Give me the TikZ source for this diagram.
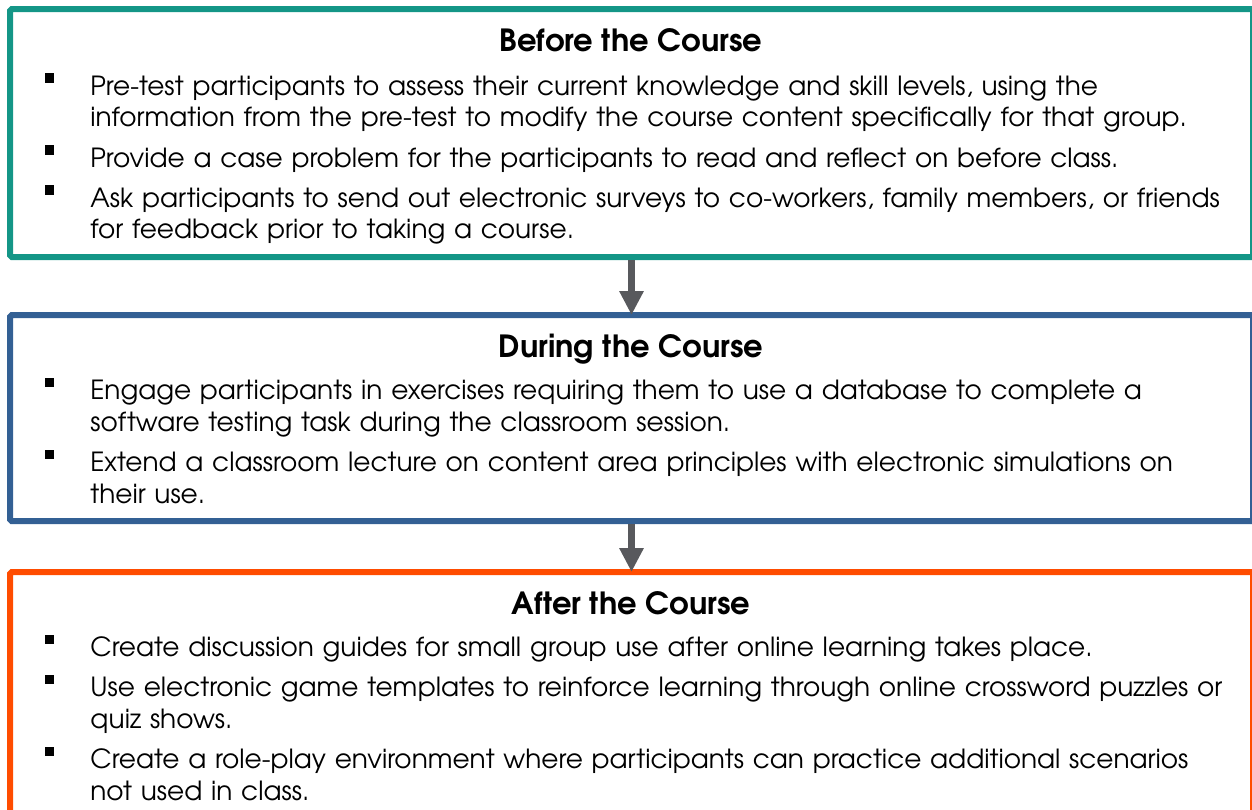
\documentclass[tikz,border=0pt]{standalone}
\usepackage{fontspec}
\setmainfont{texgyreadventor}[Extension=.otf,UprightFont=*-regular,BoldFont=*-bold,ItalicFont=*-italic,BoldItalicFont=*-bolditalic]
\usetikzlibrary{arrows.meta,positioning}
\definecolor{beforeCol}{RGB}{20,150,135}
\definecolor{duringCol}{RGB}{51,96,148}
\definecolor{afterCol}{RGB}{255,76,0}
\definecolor{arrowGray}{RGB}{88,89,93}

\begin{document}
\begin{tikzpicture}
[boxDecorate/.style={draw,line width=0.12cm,inner sep=0pt,outer sep=0pt,rounded corners=1pt},%
  headDecorate/.style={font=\fontsize{17.4}{21}\selectfont\bfseries,anchor=base,inner sep=0pt},%
  itemDecorate/.style={font=\fontsize{15}{18.2}\selectfont,anchor=base west,text width=23.4cm,align=left,inner sep=0pt},%
  bulletDecorate/.style={fill=black,inner sep=0pt,minimum size=0.19cm},%
  arrowDecorate/.style={draw=arrowGray,line width=0.14cm,-{Triangle[width=0.46cm,length=0.48cm]},shorten <=0.06cm}]
\useasboundingbox (0,0) rectangle (25.04,-16.18);
%% boxes
\foreach \boxname/\col/\y/\h in {
  before/beforeCol/-2.66/4.96, during/duringCol/-8.36/4.12,
  after/afterCol/-13.87/4.86}
{
  \node (\boxname) at (12.63,\y) [boxDecorate,draw=\col,minimum width=24.86cm,minimum height=\h cm] {};
}
%% headings
\node (beforeHead) at (12.62,-1.03) [headDecorate] {Before the Course};
\node (duringHead) at (12.62,-7.15) [headDecorate] {During the Course};
\node (afterHead) at (12.62,-12.29) [headDecorate] {After the Course};
%% bullet items
\foreach \itemname/\y/\txt in {
  b1/-1.90/{Pre-test participants to assess their current knowledge and skill levels, using the\\information from the pre-test to modify the course content specifically for that group.},
  b2/-3.34/{Provide a case problem for the participants to read and reflect on before class.},
  b3/-4.14/{Ask participants to send out electronic surveys to co-workers, family members, or friends\\for feedback prior to taking a course.},
  d1/-7.99/{Engage participants in exercises requiring them to use a database to complete a\\software testing task during the classroom session.},
  d2/-9.43/{Extend a classroom lecture on content area principles with electronic simulations on\\their use.},
  a1/-13.13/{Create discussion guides for small group use after online learning takes place.},
  a2/-13.93/{Use electronic game templates to reinforce learning through online crossword puzzles or\\quiz shows.},
  a3/-15.37/{Create a role-play environment where participants can practice additional scenarios\\not used in class.}}
{
  \node (\itemname) at (1.8,\y) [itemDecorate] {\txt};
  \node (\itemname dot) at (0.99,\y+0.34) [bulletDecorate] {};
}
%% arrows
\path
\foreach \startnode/\endnode in {before/during, during/after}
{
  (\startnode) edge[arrowDecorate] (\endnode)
};
\end{tikzpicture}
\end{document}
